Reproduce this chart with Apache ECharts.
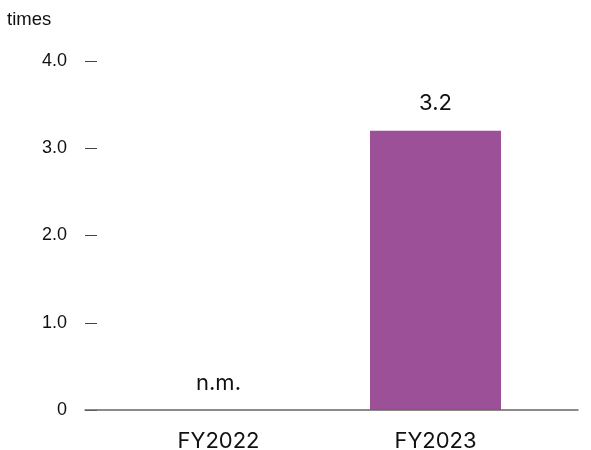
<!DOCTYPE html>
<html><head><meta charset="utf-8">
<script src="https://cdn.jsdelivr.net/npm/echarts@6/dist/echarts.min.js"></script>
<style>html,body{margin:0;padding:0;background:#fff}#c{width:591px;height:450px}</style>
</head><body><div id="c"></div>
<script>
const categories = ['FY2022', 'FY2023'];
const values = [0, 3.2];
const valueLabels = ['n.m.', '3.2'];
const yTicks = [0, 1, 2, 3, 4];

const chart = echarts.init(document.getElementById('c'));
const yCommon = {min: 0, max: 4, interval: 1};
chart.setOption({
  animation: false,
  grid: [
    {left: 85, right: 13, top: 61, bottom: 40, outerBoundsMode: 'none', containLabel: false},
    {left: 110, right: 47, top: 61, bottom: 40, outerBoundsMode: 'none', containLabel: false}
  ],
  graphic: [{type: 'text', left: 7, top: 10, style: {text: 'times', font: '18.5px "Liberation Sans", Arial', fill: '#111'}}],
  xAxis: [
    {gridIndex: 0, type: 'category', data: [''], z: 10, axisLine: {show: true, lineStyle: {color: '#666', width: 1.5}}, axisTick: {show: false}, axisLabel: {show: false}},
    {gridIndex: 1, type: 'category', data: categories, axisLine: {show: false}, axisTick: {show: false},
     axisLabel: {margin: 20, color: '#111', fontSize: 22, fontFamily: 'Inter, sans-serif'}}
  ],
  yAxis: [
    Object.assign({gridIndex: 0, type: 'value', axisLine: {show: false},
      axisTick: {show: true, inside: true, length: 12, lineStyle: {color: '#444'}},
      splitLine: {show: false},
      axisLabel: {margin: 18, color: '#111', fontSize: 18, fontFamily: '"Liberation Sans", Arial',
        formatter: v => yTicks.includes(v) ? (v === 0 ? '0' : v.toFixed(1)) : ''}}, yCommon),
    Object.assign({gridIndex: 1, type: 'value', show: false, splitLine: {show: false}}, yCommon)
  ],
  series: [{
    type: 'bar', xAxisIndex: 1, yAxisIndex: 1, barWidth: 131,
    data: values,
    itemStyle: {color: '#9C5098'},
    label: {show: true, position: 'top', distance: 16, color: '#111', fontSize: 22,
      fontFamily: 'Inter, sans-serif',
      formatter: p => valueLabels[p.dataIndex]}
  }]
});
</script></body></html>
